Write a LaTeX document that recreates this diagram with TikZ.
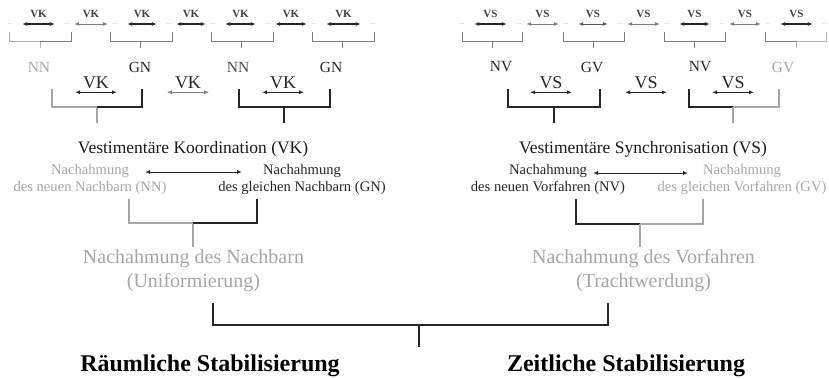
\documentclass[tikz,border=0pt]{standalone}
\usepackage{fontspec}
\setmainfont{Liberation Serif}
\usetikzlibrary{arrows.meta, positioning}

\begin{document}
\begin{tikzpicture}[
    x=1pt, y=-1pt,
    elli/.style={font=\fontsize{7}{7}\selectfont, text=black!30, inner sep=0pt, minimum width=6pt},
    toplbl/.style={font=\bfseries\fontsize{11}{11}\selectfont, text=black!75, inner sep=1pt, above=5pt},
    midlbl/.style={font=\fontsize{18}{18}\selectfont, text=black!85, inner sep=1pt},
    abbr/.style={font=\fontsize{15.5}{15.5}\selectfont, text=black!85},
    headline/.style={font=\fontsize{17.5}{21}\selectfont, text=black!90},
    desctext/.style={font=\fontsize{14.6}{17.5}\selectfont, align=center, text=black!85},
    sumtext/.style={font=\fontsize{20}{24}\selectfont, align=center, text=black!35},
    goaltext/.style={font=\bfseries\fontsize{24}{24}\selectfont, text=black},
    arr/.style={{Latex[length=5pt,width=4pt]}-{Latex[length=5pt,width=4pt]}, draw=black!85, line width=1.2pt},
    garr/.style={arr, draw=black!50, line width=0.8pt},
    arrin/.style={shorten <=9pt, shorten >=9pt},
    arrout/.style={shorten <=4pt, shorten >=4pt},
    lbrk/.style={draw=black!30, line width=1pt},
    mbrk/.style={draw=black!50, line width=1pt},
    dbrk/.style={draw=black!85, line width=1.8pt},
    pbrk/.style={draw=black!35, line width=1.8pt}
]
\useasboundingbox (0,0) rectangle (829,378);

% Row 1: VK chain
\node[elli] (d1) at (10,24) {...};
\node[elli] (d2) at (67,24) {...};
\node[elli] (d3) at (115,24) {...};
\node[elli] (d4) at (169,24) {...};
\node[elli] (d5) at (213,24) {...};
\node[elli] (d6) at (268,24) {...};
\node[elli] (d7) at (314,24) {...};
\node[elli] (d8) at (373,24) {...};
\draw[arr, arrin] (d1) -- node[toplbl] (k1) {VK} (d2);
\draw[garr, arrout] (d2) -- node[toplbl] (k2) {VK} (d3);
\draw[arr, arrin] (d3) -- node[toplbl] (k3) {VK} (d4);
\draw[arr, arrout] (d4) -- node[toplbl] (k4) {VK} (d5);
\draw[arr, arrin] (d5) -- node[toplbl] (k5) {VK} (d6);
\draw[arr, arrout] (d6) -- node[toplbl] (k6) {VK} (d7);
\draw[arr, arrin] (d7) -- node[toplbl] (k7) {VK} (d8);

% Row 1: VS chain
\node[elli] (e1) at (462,24) {...};
\node[elli] (e2) at (519,24) {...};
\node[elli] (e3) at (566,24) {...};
\node[elli] (e4) at (620,24) {...};
\node[elli] (e5) at (667,24) {...};
\node[elli] (e6) at (722,24) {...};
\node[elli] (e7) at (768,24) {...};
\node[elli] (e8) at (825,24) {...};
\draw[arr, arrin] (e1) -- node[toplbl] (s1) {VS} (e2);
\draw[garr, arrout] (e2) -- node[toplbl] (s2) {VS} (e3);
\draw[arr, arrin, draw=black!65, line width=1pt] (e3) -- node[toplbl] (s3) {VS} (e4);
\draw[garr, arrout] (e4) -- node[toplbl] (s4) {VS} (e5);
\draw[arr, arrin] (e5) -- node[toplbl] (s5) {VS} (e6);
\draw[garr, arrout] (e6) -- node[toplbl] (s6) {VS} (e7);
\draw[arr, arrin] (e7) -- node[toplbl] (s7) {VS} (e8);

% Row 1 brackets
\draw[lbrk] (9,32) |- (40,41) -- (40,48);
\draw[mbrk] (40,41) -| (71,32);
\draw[mbrk] (110,32) |- (172,41) -- (172,32) (140,41) -- (140,48);
\draw[mbrk] (211,32) |- (273,41) -- (273,32) (241,41) -- (241,48);
\draw[mbrk] (312,32) |- (374,41) -- (374,32) (342,41) -- (342,48);
\draw[mbrk] (462,32) |- (522,41) -- (522,32) (492,41) -- (492,48);
\draw[mbrk] (563,32) |- (624,41) -- (624,32) (593,41) -- (593,48);
\draw[mbrk] (664,32) |- (725,41) -- (725,32) (694,41) -- (694,48);
\draw[mbrk] (765,32) |- (796,41);
\draw[lbrk] (796,41) -| (826,32) (796,41) -- (796,48);

% Neighbour / ancestor labels
\node[abbr, text=black!35] (nn1) at (39,67) {NN};
\node[abbr] (gn1) at (140,67) {GN};
\node[abbr, text=black!70] (nn2) at (238,67) {NN};
\node[abbr] (gn2) at (331,67) {GN};
\node[abbr] (nv1) at (501,67) {NV};
\node[abbr] (gv1) at (592,67) {GV};
\node[abbr] (nv2) at (700,67) {NV};
\node[abbr, text=black!35] (gv2) at (783,67) {GV};

% Row 2
\node[midlbl] (kk1) at (96,83) {VK};
\node[midlbl] (kk2) at (188,83) {VK};
\node[midlbl] (kk3) at (283,83) {VK};
\node[midlbl] (ss1) at (551,83) {VS};
\node[midlbl] (ss2) at (646,83) {VS};
\node[midlbl] (ss3) at (733,83) {VS};
\draw[arr] ([xshift=-21pt,yshift=-2pt]kk1.south) -- ([xshift=21pt,yshift=-2pt]kk1.south);
\draw[garr] ([xshift=-21pt,yshift=-2pt]kk2.south) -- ([xshift=21pt,yshift=-2pt]kk2.south);
\draw[arr] ([xshift=-21pt,yshift=-2pt]kk3.south) -- ([xshift=21pt,yshift=-2pt]kk3.south);
\draw[arr] ([xshift=-21pt,yshift=-2pt]ss1.south) -- ([xshift=21pt,yshift=-2pt]ss1.south);
\draw[arr] ([xshift=-21pt,yshift=-2pt]ss2.south) -- ([xshift=21pt,yshift=-2pt]ss2.south);
\draw[arr] ([xshift=-21pt,yshift=-2pt]ss3.south) -- ([xshift=21pt,yshift=-2pt]ss3.south);

% Row 2 brackets
\draw[pbrk] (52,89) |- (97,107) -- (97,123);
\draw[dbrk] (97,107) -| (142,89);
\draw[dbrk] (239,89) |- (330,107) -- (330,89) (284,107) -- (284,123);
\draw[dbrk] (508,89) |- (600,107) -- (600,89) (554,107) -- (554,123);
\draw[dbrk] (689,89) |- (733,107);
\draw[pbrk] (733,107) -| (779,89) (733,107) -- (733,123);

% Coordination / synchronisation
\node[headline] (vk) at (193,149) {Vestimentäre Koordination (VK)};
\node[headline] (vs) at (643,149) {Vestimentäre Synchronisation (VS)};

\node[desctext, text=black!35] (nnt) at (90,179.5) {Nachahmung\\des neuen Nachbarn (NN)};
\node[desctext] (gnt) at (302,179.5) {Nachahmung\\des gleichen Nachbarn (GN)};
\node[desctext] (nvt) at (548,179.5) {Nachahmung\\des neuen Vorfahren (NV)};
\node[desctext, text=black!35] (gvt) at (742,179.5) {Nachahmung\\des gleichen Vorfahren (GV)};
\draw[arr, line width=1pt] ([xshift=55pt,yshift=7.5pt]nnt.center) -- ([xshift=-60pt,yshift=7.5pt]gnt.center);
\draw[arr, line width=1pt] ([xshift=45pt,yshift=6.5pt]nvt.center) -- ([xshift=-54pt,yshift=6.5pt]gvt.center);

% Row 3 brackets
\draw[pbrk] (129,199) |- (193,223) -- (193,247);
\draw[dbrk] (193,223) -| (257,199);
\draw[dbrk] (576,199) |- (640,224);
\draw[pbrk] (640,224) -| (703,199) (640,224) -- (640,247);

\node[sumtext] (nb) at (193.5,271) {Nachahmung des Nachbarn\\(Uniformierung)};
\node[sumtext] (vf) at (643.5,271) {Nachahmung des Vorfahren\\(Trachtwerdung)};

% Stabilisation
\draw[dbrk, line width=2pt] (213,303) |- (608,325) -- (608,303) (419,325) -- (419,347);
\node[goaltext] (rs) at (210,366) {Räumliche Stabilisierung};
\node[goaltext] (zs) at (626,366) {Zeitliche Stabilisierung};

\end{tikzpicture}
\end{document}
